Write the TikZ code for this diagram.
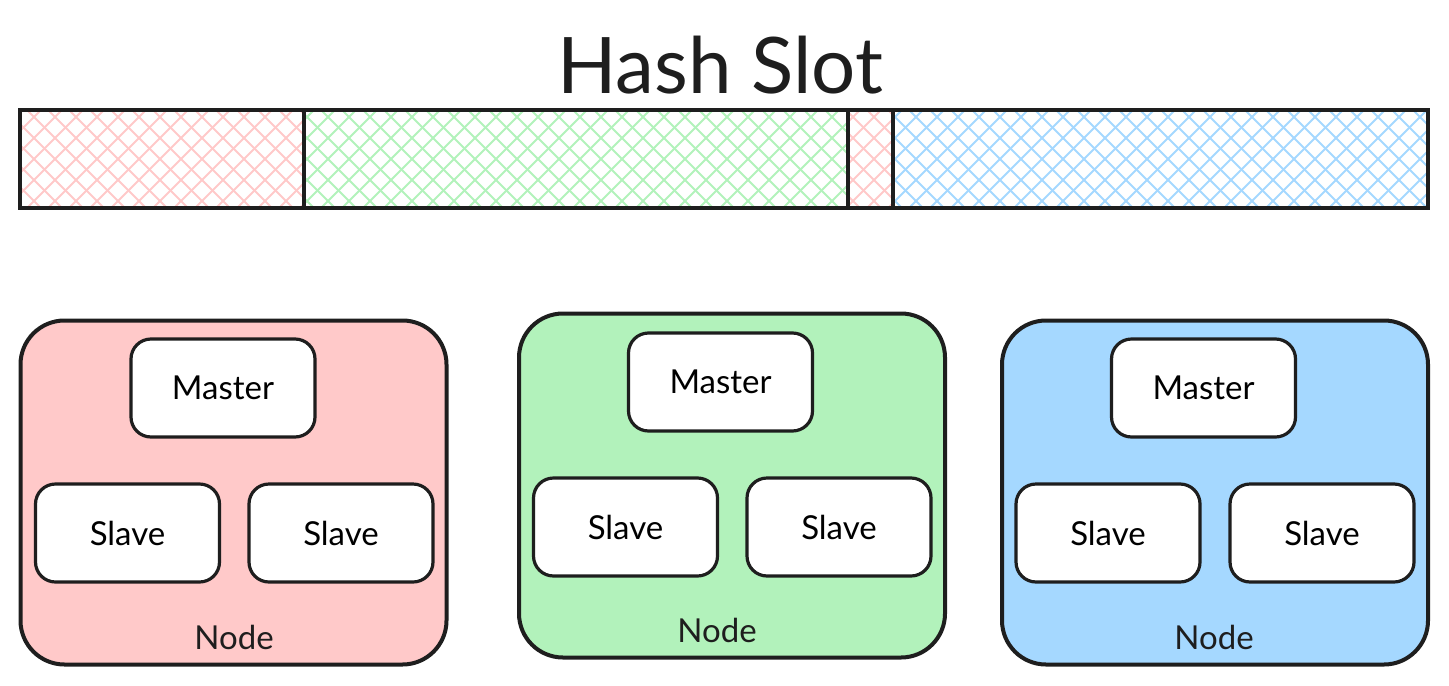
\documentclass[tikz,border=0pt]{standalone}
\usepackage{fontspec}
\setmainfont{Lato}
\definecolor{slotred}{HTML}{FFC9C9}
\definecolor{slotgreen}{HTML}{B2F2BB}
\definecolor{slotblue}{HTML}{A5D8FF}
\definecolor{ink}{HTML}{1E1E1E}
\tikzset{
  cluster/.style={draw=ink, line width=2pt, rounded corners=22pt, minimum width=213pt, minimum height=172pt, inner sep=0pt},
  server/.style={draw=ink, fill=white, line width=1.6pt, rounded corners=10pt, minimum width=92pt, minimum height=49pt, inner sep=0pt, font=\fontsize{16.5}{19}\selectfont},
  caption/.style={font=\fontsize{16.5}{19}\selectfont, text=ink},
  hatch/.style={line width=1pt}
}
\begin{document}
\begin{tikzpicture}[x=0.5pt, y=-0.5pt]
  \useasboundingbox (0,0) rectangle (1449,685);
  % title
  \node[font=\fontsize{39}{44}\selectfont, text=ink] (title) at (720,65) {Hash Slot};
  % slot segments, cross hatched
  \foreach \xa/\xb/\col/\seg in {20/304/slotred/sa, 304/848/slotgreen/sb, 848/893/slotred/sc, 893/1428/slotblue/sd} {
    \begin{scope}
      \clip (\xa,110) rectangle (\xb,208);
      \foreach \k in {-120,-99,...,1440} {
        \draw[hatch, \col] (\k,110) -- ++(98,98);
        \draw[hatch, \col] (\k,208) -- ++(98,-98);
      }
    \end{scope}
    \node[draw=ink, line width=1.6pt, minimum width={(\xb-\xa)*0.5pt}, minimum height=49pt, inner sep=0pt] (\seg) at ({(\xa+\xb)/2},159) {};
  }
  % red node
  \node[cluster, fill=slotred] (nodeA) at (233.5,492.5) {};
  \node[server] (masterA) at (223,388) {Master};
  \node[server] (slaveA1) at (127.5,533) {Slave};
  \node[server] (slaveA2) at (341,533) {Slave};
  \node[caption] (labelA) at (234,637) {Node};
  % green node
  \node[cluster, fill=slotgreen] (nodeB) at (732,485.5) {};
  \node[server] (masterB) at (720.5,382) {Master};
  \node[server] (slaveB1) at (625.5,527) {Slave};
  \node[server] (slaveB2) at (839,527) {Slave};
  \node[caption] (labelB) at (717,630) {Node};
  % blue node
  \node[cluster, fill=slotblue] (nodeC) at (1215,492.5) {};
  \node[server] (masterC) at (1203.5,388) {Master};
  \node[server] (slaveC1) at (1108,533) {Slave};
  \node[server] (slaveC2) at (1322,533) {Slave};
  \node[caption] (labelC) at (1214,637) {Node};
\end{tikzpicture}
\end{document}
